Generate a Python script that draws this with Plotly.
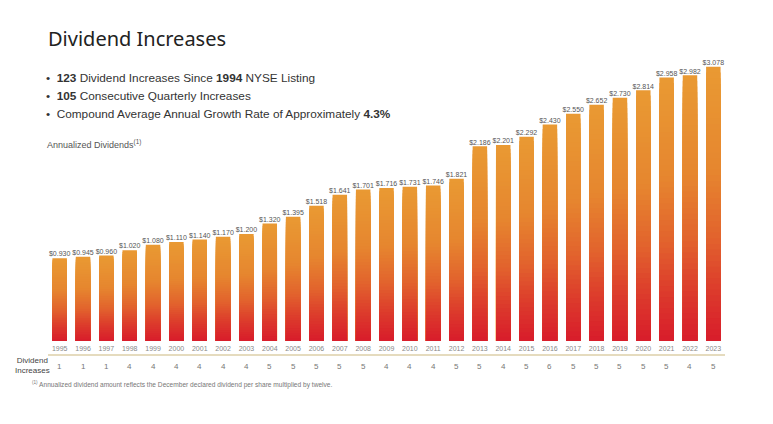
import plotly.graph_objects as go
from plotly.colors import sample_colorscale

years = [str(y) for y in range(1995, 2024)]
dividends = [0.930, 0.945, 0.960, 1.020, 1.080, 1.110, 1.140, 1.170, 1.200, 1.320,
             1.395, 1.518, 1.641, 1.701, 1.716, 1.731, 1.746, 1.821, 2.186, 2.201,
             2.292, 2.430, 2.550, 2.652, 2.730, 2.814, 2.958, 2.982, 3.078]
increases = [1, 1, 1, 4, 4, 4, 4, 4, 4, 5, 5, 5, 5, 5, 4, 4, 4, 5, 5, 4,
             5, 6, 5, 5, 5, 5, 5, 4, 5]

W, H = 773, 424
L, R, T, B = 48, 725, 47, 341  # plot area in pixels


def px(x):
    return (x - L) / (R - L)


def py(y):
    return (B - y) / (B - T)


scale = [[0.0, "#D81C2B"], [0.18, "#DC3A2C"], [0.38, "#E2632D"],
         [0.62, "#E6862F"], [1.0, "#E99A33"]]

fig = go.Figure()
N = 48
for k in range(N):
    frac = 1 - k / N
    col = sample_colorscale(scale, [frac - 0.5 / N])[0]
    fig.add_trace(go.Bar(
        x=years, y=[v * frac for v in dividends],
        marker=dict(color=col, line=dict(width=0)),
        width=0.62, hoverinfo="skip", showlegend=False))

fig.add_trace(go.Scatter(
    x=years, y=dividends, mode="text",
    text=["$%.3f" % v for v in dividends], textposition="top center",
    textfont=dict(size=7, color="#555555", family="Liberation Sans"),
    cliponaxis=False, showlegend=False, hoverinfo="skip"))

ann = []
ann.append(dict(x=px(46), y=py(38), xref="paper", yref="paper", xanchor="left",
                yanchor="middle", showarrow=False, text="Dividend Increases",
                font=dict(size=20, color="#222222", family="Noto Sans")))
bullets = [
    "•  <b>123</b> Dividend Increases Since <b>1994</b> NYSE Listing",
    "•  <b>105</b> Consecutive Quarterly Increases",
    "•  Compound Average Annual Growth Rate of Approximately <b>4.3%</b>",
]
for i, t in enumerate(bullets):
    ann.append(dict(x=px(44), y=py(78 + 18 * i), xref="paper", yref="paper",
                    xanchor="left", yanchor="middle", showarrow=False, text=t,
                    font=dict(size=11.8, color="#333333", family="Liberation Sans")))
ann.append(dict(x=px(45), y=py(144), xref="paper", yref="paper", xanchor="left",
                yanchor="middle", showarrow=False,
                text="Annualized Dividends<sup>(1)</sup>",
                font=dict(size=9, color="#555555", family="Liberation Sans")))
ann.append(dict(x=px(32), y=py(365), xref="paper", yref="paper", xanchor="center",
                yanchor="middle", showarrow=False, text="Dividend<br>Increases",
                font=dict(size=8, color="#444444", family="Liberation Sans")))
for i, n in enumerate(increases):
    ann.append(dict(x=i, y=py(366), xref="x", yref="paper", xanchor="center",
                    yanchor="middle", showarrow=False, text=str(n),
                    font=dict(size=8, color="#777777", family="Liberation Sans")))
ann.append(dict(x=px(30), y=py(384), xref="paper", yref="paper", xanchor="left",
                yanchor="middle", showarrow=False,
                text="<sup>(1)</sup> Annualized dividend amount reflects the December declared dividend per share multiplied by twelve.",
                font=dict(size=6.6, color="#777777", family="Liberation Sans")))

fig.update_layout(
    width=W, height=H, barmode="overlay",
    margin=dict(l=L, r=W - R, t=T, b=H - B),
    paper_bgcolor="white", plot_bgcolor="white",
    xaxis=dict(type="category", range=[-0.5, 28.5], showgrid=False, zeroline=False,
               showline=False, ticks="", ticklabelstandoff=2,
               tickfont=dict(size=7, color="#888888", family="Liberation Sans")),
    yaxis=dict(range=[0, 3.3], visible=False, showgrid=False, zeroline=False),
    annotations=ann,
    shapes=[dict(type="line", xref="paper", yref="paper", x0=0, x1=1,
                 y0=py(355), y1=py(355), line=dict(color="#DCCFA8", width=1.5))],
)

fig.write_html("out.html")
